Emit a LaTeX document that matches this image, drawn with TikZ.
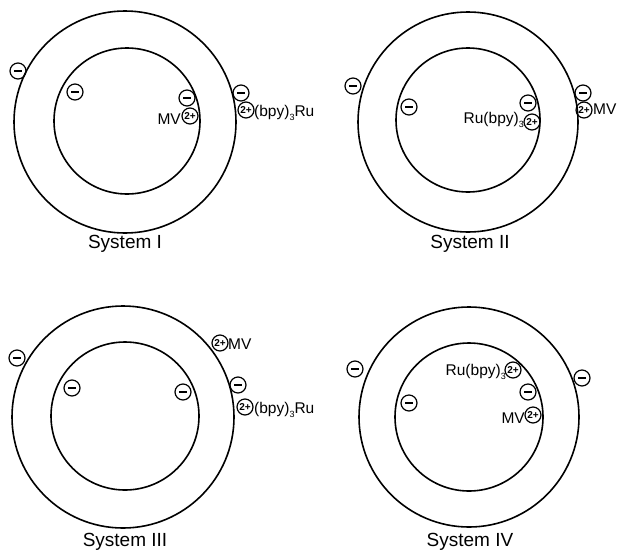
\documentclass[tikz,border=0pt]{standalone}
\usepackage{fontspec}
\setmainfont{Liberation Sans}
\newcommand{\lowsub}[1]{\raisebox{-0.45ex}{\small #1}}
\newcommand{\minusbar}{\rule[-0.7pt]{8pt}{1.4pt}}
\begin{document}
\begin{tikzpicture}[x=1pt,y=-1pt,
  ring/.style={draw, line width=1.6pt},
  ion/.style={circle, draw, line width=1.2pt, minimum size=16pt, inner sep=0pt, font=\fontsize{10}{10}\selectfont\bfseries},
  lab/.style={inner sep=0pt, font=\fontsize{15.5}{15.5}\selectfont},
  title/.style={inner sep=0pt, font=\fontsize{19}{19}\selectfont}]
\useasboundingbox (0,0) rectangle (620,554);
% System I
\draw[ring] (125,122) circle[radius=111];
\draw[ring] (127,121) circle[radius=73];
\node[ion] (i1) at (18,71) {\minusbar};
\node[ion] (i2) at (75,92) {\minusbar};
\node[ion] (i3) at (187,98) {\minusbar};
\node[ion] (i4) at (190,116) {2+};
\node[ion] (i5) at (241,93) {\minusbar};
\node[ion] (i6) at (246,110) {2+};
\node[lab, anchor=east] (il1) at (181,119) {MV};
\node[lab, anchor=west] (il2) at (254,113) {(bpy)\lowsub{3}Ru};
\node[title] (it) at (125,244) {System I};
% System II
\draw[ring] (468,122) circle[radius=110];
\draw[ring] (468,120) circle[radius=72];
\node[ion] (ii1) at (353,86) {\minusbar};
\node[ion] (ii2) at (409,107) {\minusbar};
\node[ion] (ii3) at (528,103) {\minusbar};
\node[ion] (ii4) at (532,122) {2+};
\node[ion] (ii5) at (583,93) {\minusbar};
\node[ion] (ii6) at (584,110) {2+};
\node[lab, anchor=east] (iil1) at (524,120) {Ru(bpy)\lowsub{3}};
\node[lab, anchor=west] (iil2) at (593,109) {MV};
\node[title] (iit) at (470,244) {System II};
% System III
\draw[ring] (123,417) circle[radius=111];
\draw[ring] (125,416) circle[radius=74];
\node[ion] (iii1) at (17,358) {\minusbar};
\node[ion] (iii2) at (72,388) {\minusbar};
\node[ion] (iii3) at (183,392) {\minusbar};
\node[ion] (iii4) at (220,343) {2+};
\node[ion] (iii5) at (238,385) {\minusbar};
\node[ion] (iii6) at (245,407) {2+};
\node[lab, anchor=west] (iiil1) at (228,344) {MV};
\node[lab, anchor=west] (iiil2) at (254,410) {(bpy)\lowsub{3}Ru};
\node[title] (iiit) at (125,542) {System III};
% System IV
\draw[ring] (469,417) circle[radius=110];
\draw[ring] (469,417) circle[radius=74];
\node[ion] (iv1) at (355,369) {\minusbar};
\node[ion] (iv2) at (409,403) {\minusbar};
\node[ion] (iv3) at (513,370) {2+};
\node[ion] (iv4) at (528,392) {\minusbar};
\node[ion] (iv5) at (533,415) {2+};
\node[ion] (iv6) at (582,378) {\minusbar};
\node[lab, anchor=east] (ivl1) at (506,372) {Ru(bpy)\lowsub{3}};
\node[lab, anchor=east] (ivl2) at (525,418) {MV};
\node[title] (ivt) at (470,542) {System IV};
\end{tikzpicture}
\end{document}
